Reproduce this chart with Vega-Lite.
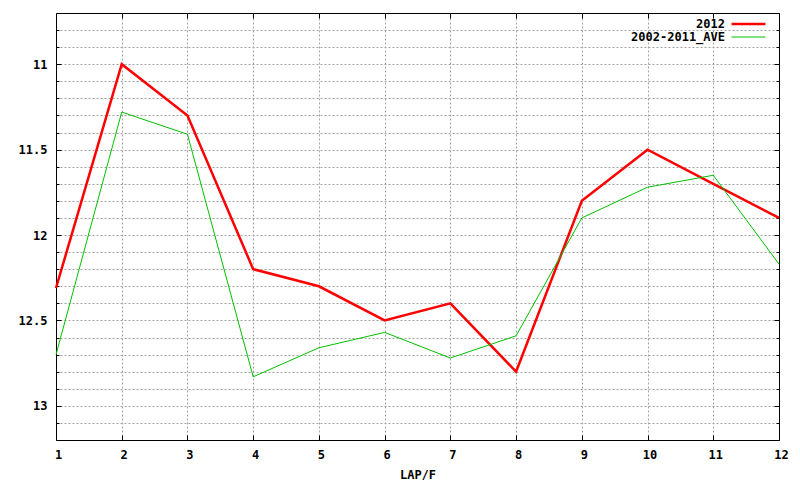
{
  "$schema": "https://vega.github.io/schema/vega-lite/v6.json",
  "width": 723,
  "height": 427,
  "autosize": {"type": "none"},
  "padding": {"left": 56, "top": 13, "right": 21, "bottom": 40},
  "background": "white",
  "config": {
    "view": {"stroke": null},
    "font": "DejaVu Sans Mono",
    "axis": {
      "labelFont": "DejaVu Sans Mono",
      "labelFontWeight": "bold",
      "labelFontSize": 12,
      "labelColor": "black",
      "titleFont": "DejaVu Sans Mono",
      "titleFontWeight": "bold",
      "titleFontSize": 12,
      "titleColor": "black",
      "domainColor": "black",
      "domainWidth": 1,
      "tickColor": "black",
      "tickWidth": 1,
      "gridColor": "#a0a0a0",
      "gridDash": [2, 2],
      "gridWidth": 1
    }
  },
  "data": {
    "values": [
      {"lap": 1, "series": "2012", "time": 12.31},
      {"lap": 2, "series": "2012", "time": 11.0},
      {"lap": 3, "series": "2012", "time": 11.3},
      {"lap": 4, "series": "2012", "time": 12.2},
      {"lap": 5, "series": "2012", "time": 12.3},
      {"lap": 6, "series": "2012", "time": 12.5},
      {"lap": 7, "series": "2012", "time": 12.4},
      {"lap": 8, "series": "2012", "time": 12.8},
      {"lap": 9, "series": "2012", "time": 11.8},
      {"lap": 10, "series": "2012", "time": 11.5},
      {"lap": 11, "series": "2012", "time": 11.7},
      {"lap": 12, "series": "2012", "time": 11.9},
      {"lap": 1, "series": "2002-2011_AVE", "time": 12.7},
      {"lap": 2, "series": "2002-2011_AVE", "time": 11.28},
      {"lap": 3, "series": "2002-2011_AVE", "time": 11.41},
      {"lap": 4, "series": "2002-2011_AVE", "time": 12.83},
      {"lap": 5, "series": "2002-2011_AVE", "time": 12.66},
      {"lap": 6, "series": "2002-2011_AVE", "time": 12.57},
      {"lap": 7, "series": "2002-2011_AVE", "time": 12.72},
      {"lap": 8, "series": "2002-2011_AVE", "time": 12.59},
      {"lap": 9, "series": "2002-2011_AVE", "time": 11.9},
      {"lap": 10, "series": "2002-2011_AVE", "time": 11.72},
      {"lap": 11, "series": "2002-2011_AVE", "time": 11.65},
      {"lap": 12, "series": "2002-2011_AVE", "time": 12.17}
    ]
  },
  "resolve": {"axis": {"x": "independent", "y": "independent"}},
  "layer": [
    {
      "mark": {"type": "point", "opacity": 0},
      "encoding": {
        "x": {"field": "lap", "type": "quantitative",
          "scale": {"domain": [1, 12], "nice": false, "zero": false},
          "axis": {"orient": "top", "values": [1,2,3,4,5,6,7,8,9,10,11,12], "labels": false, "tickSize": -5, "grid": false, "title": null, "domain": true}},
        "y": {"field": "time", "type": "quantitative",
          "scale": {"domain": [10.7, 13.2], "reverse": true, "nice": false, "zero": false},
          "axis": {"orient": "left", "values": [10.8,10.9,11.0,11.1,11.2,11.3,11.4,11.5,11.6,11.7,11.8,11.9,12.0,12.1,12.2,12.3,12.4,12.5,12.6,12.7,12.8,12.9,13.0,13.1], "labels": false, "tickSize": -3, "grid": true, "domain": false, "title": null}}
      }
    },
    {
      "mark": {"type": "point", "opacity": 0},
      "encoding": {
        "x": {"field": "lap", "type": "quantitative", "axis": null},
        "y": {"field": "time", "type": "quantitative",
          "axis": {"orient": "right", "values": [10.8,10.9,11.0,11.1,11.2,11.3,11.4,11.5,11.6,11.7,11.8,11.9,12.0,12.1,12.2,12.3,12.4,12.5,12.6,12.7,12.8,12.9,13.0,13.1], "labels": false, "tickSize": -3, "grid": false, "domain": true, "title": null}}
      }
    },
    {
      "mark": {"type": "point", "opacity": 0},
      "encoding": {
        "x": {"field": "lap", "type": "quantitative", "axis": null},
        "y": {"field": "time", "type": "quantitative",
          "axis": {"orient": "right", "values": [11, 11.5, 12, 12.5, 13], "labels": false, "tickSize": -5, "grid": false, "domain": false, "title": null}}
      }
    },
    {
      "mark": {"type": "line"},
      "encoding": {
        "x": {"field": "lap", "type": "quantitative",
          "axis": {"orient": "bottom", "values": [1,2,3,4,5,6,7,8,9,10,11,12], "format": "d", "tickSize": -5, "labelPadding": 14, "labelOffset": 2, "labelFlush": false, "grid": true, "title": "LAP/F", "titlePadding": 9}},
        "y": {"field": "time", "type": "quantitative",
          "axis": {"orient": "left", "values": [11, 11.5, 12, 12.5, 13], "format": "~g", "tickSize": -5, "labelPadding": 14, "grid": false, "title": null}},
        "color": {"field": "series", "type": "nominal",
          "scale": {"domain": ["2012", "2002-2011_AVE"], "range": ["#ff0000", "#00c000"]},
          "legend": {"title": null, "orient": "none", "legendX": 685, "legendY": 3.5, "symbolType": "M-2.83,0H2.83", "symbolSize": 144, "labelAlign": "right", "labelOffset": -31, "labelFont": "DejaVu Sans Mono", "labelFontWeight": "bold", "labelFontSize": 12, "labelColor": "black", "rowPadding": 0, "padding": 0}},
        "strokeWidth": {"field": "series", "type": "nominal",
          "scale": {"domain": ["2012", "2002-2011_AVE"], "range": [2.5, 1]},
          "legend": {"title": null, "orient": "none", "legendX": 685, "legendY": 3.5, "symbolType": "M-2.83,0H2.83", "symbolSize": 144, "labelAlign": "right", "labelOffset": -31, "labelFont": "DejaVu Sans Mono", "labelFontWeight": "bold", "labelFontSize": 12, "labelColor": "black", "rowPadding": 0, "padding": 0}}
      }
    }
  ]
}
